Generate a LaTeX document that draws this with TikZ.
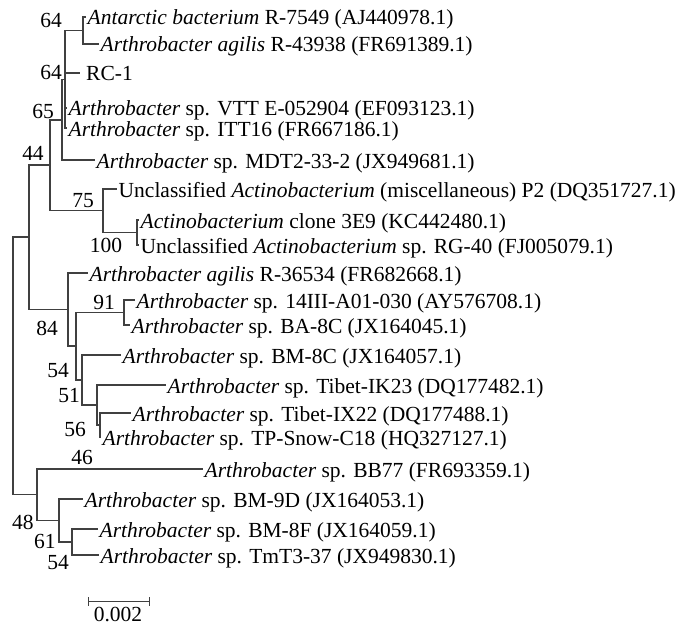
\documentclass[tikz,border=0pt]{standalone}
\usepackage{fontspec}
\setmainfont{Liberation Serif}
\begin{document}
\begin{tikzpicture}[x=1pt,y=-1pt,
  br/.style={draw=black!75, line width=1.1pt},
  leaf/.style={anchor=west, inner xsep=1.5pt, inner ysep=0pt, text height=16pt, text depth=0pt, font=\fontsize{21.5}{25}\selectfont},
  bs/.style={inner sep=0pt, font=\fontsize{21.5}{25}\selectfont}]
\useasboundingbox (0,0) rectangle (678,626);
\fill[white] (0,0) rectangle (678,626);
% leaves
\node[leaf] (l1) at (86,17) {\textit{Antarctic bacterium} R-7549 (AJ440978.1)};
\node[leaf] (l2) at (99,44) {\textit{Arthrobacter agilis} R-43938 (FR691389.1)};
\node[leaf, inner xsep=6pt] (l3) at (80,73) {RC-1};
\node[leaf] (l4) at (67,108) {\textit{Arthrobacter} sp. VTT E-052904 (EF093123.1)};
\node[leaf] (l5) at (67,128) {\textit{Arthrobacter} sp. ITT16 (FR667186.1)};
\node[leaf] (l6) at (95,160) {\textit{Arthrobacter} sp. MDT2-33-2 (JX949681.1)};
\node[leaf] (l7) at (117,189) {Unclassified \textit{Actinobacterium} (miscellaneous) P2 (DQ351727.1)};
\node[leaf] (l8) at (139,220) {\textit{Actinobacterium} clone 3E9 (KC442480.1)};
\node[leaf] (l9) at (139,245) {Unclassified \textit{Actinobacterium} sp. RG-40 (FJ005079.1)};
\node[leaf] (l10) at (88,273) {\textit{Arthrobacter agilis} R-36534 (FR682668.1)};
\node[leaf] (l11) at (135,300) {\textit{Arthrobacter} sp. 14III-A01-030 (AY576708.1)};
\node[leaf] (l12) at (130,325) {\textit{Arthrobacter} sp. BA-8C (JX164045.1)};
\node[leaf] (l13) at (121,355) {\textit{Arthrobacter} sp. BM-8C (JX164057.1)};
\node[leaf] (l14) at (166,385) {\textit{Arthrobacter} sp. Tibet-IK23 (DQ177482.1)};
\node[leaf] (l15) at (131,413) {\textit{Arthrobacter} sp. Tibet-IX22 (DQ177488.1)};
\node[leaf] (l16) at (101,437) {\textit{Arthrobacter} sp. TP-Snow-C18 (HQ327127.1)};
\node[leaf] (l17) at (203,469) {\textit{Arthrobacter} sp. BB77 (FR693359.1)};
\node[leaf] (l18) at (83,499) {\textit{Arthrobacter} sp. BM-9D (JX164053.1)};
\node[leaf] (l19) at (98,529) {\textit{Arthrobacter} sp. BM-8F (JX164059.1)};
\node[leaf] (l20) at (99,555) {\textit{Arthrobacter} sp. TmT3-37 (JX949830.1)};
% internal nodes
\coordinate (A) at (83,30.5);
\coordinate (B) at (65,79.5);
\coordinate (C) at (62,120);
\coordinate (E) at (137,232.5);
\coordinate (D) at (103,210.75);
\coordinate (F) at (50,165);
\coordinate (J) at (124,312.5);
\coordinate (M) at (100,425);
\coordinate (L) at (97,405);
\coordinate (K) at (82,380);
\coordinate (I) at (76,346);
\coordinate (H) at (68,309.5);
\coordinate (G) at (29,237);
\coordinate (P) at (72,542);
\coordinate (O) at (59,520.5);
\coordinate (N) at (37,494.75);
\coordinate (R) at (13,366);
% branches
\draw[br] (A) |- (l1.west);
\draw[br] (A) |- (l2.west);
\draw[br] (B) |- (A);
\draw[br] (B) |- (l3.west);
\draw[br] (B) |- (l4.west);
\draw[br] (B) |- (l5.west);
\draw[br] (C) |- (B);
\draw[br] (C) |- (l6.west);
\draw[br] (E) |- (l8.west);
\draw[br] (E) |- (l9.west);
\draw[br] (D) |- (l7.west);
\draw[br] (D) |- (E);
\draw[br] (F) |- (C);
\draw[br] (F) |- (D);
\draw[br] (J) |- (l11.west);
\draw[br] (J) |- (l12.west);
\draw[br] (M) |- (l15.west);
\draw[br] (M) |- (l16.west);
\draw[br] (L) |- (l14.west);
\draw[br] (L) |- (M);
\draw[br] (K) |- (l13.west);
\draw[br] (K) |- (L);
\draw[br] (I) |- (J);
\draw[br] (I) |- (K);
\draw[br] (H) |- (l10.west);
\draw[br] (H) |- (I);
\draw[br] (G) |- (F);
\draw[br] (G) |- (H);
\draw[br] (P) |- (l19.west);
\draw[br] (P) |- (l20.west);
\draw[br] (O) |- (l18.west);
\draw[br] (O) |- (P);
\draw[br] (N) |- (l17.west);
\draw[br] (N) |- (O);
\draw[br] (R) |- (G);
\draw[br] (R) |- (N);
% bootstrap values
\node[bs] (bA) at (51,20) {64};
\node[bs] (bB) at (51,72) {64};
\node[bs] (bC) at (43,111) {65};
\node[bs] (bF) at (33,153) {44};
\node[bs] (bD) at (83,201) {75};
\node[bs] (bE) at (106,245) {100};
\node[bs] (bJ) at (104,302) {91};
\node[bs] (bH) at (47,328) {84};
\node[bs] (bI) at (58,371) {54};
\node[bs] (bK) at (69,396) {51};
\node[bs] (bL) at (75,429) {56};
\node[bs] (bM) at (82,457) {46};
\node[bs] (bN) at (23,522) {48};
\node[bs] (bO) at (45,541) {61};
\node[bs] (bP) at (58,563) {54};
% scale bar
\coordinate (s1) at (88,601);
\coordinate (s2) at (149,601);
\draw[br, line width=1pt] (s1) -- (s2);
\draw[br, line width=1pt] ([yshift=-4.5pt]s1) -- ([yshift=4.5pt]s1);
\draw[br, line width=1pt] ([yshift=-4.5pt]s2) -- ([yshift=4.5pt]s2);
\node[bs] (sl) at (118,614) {0.002};
\end{tikzpicture}
\end{document}
